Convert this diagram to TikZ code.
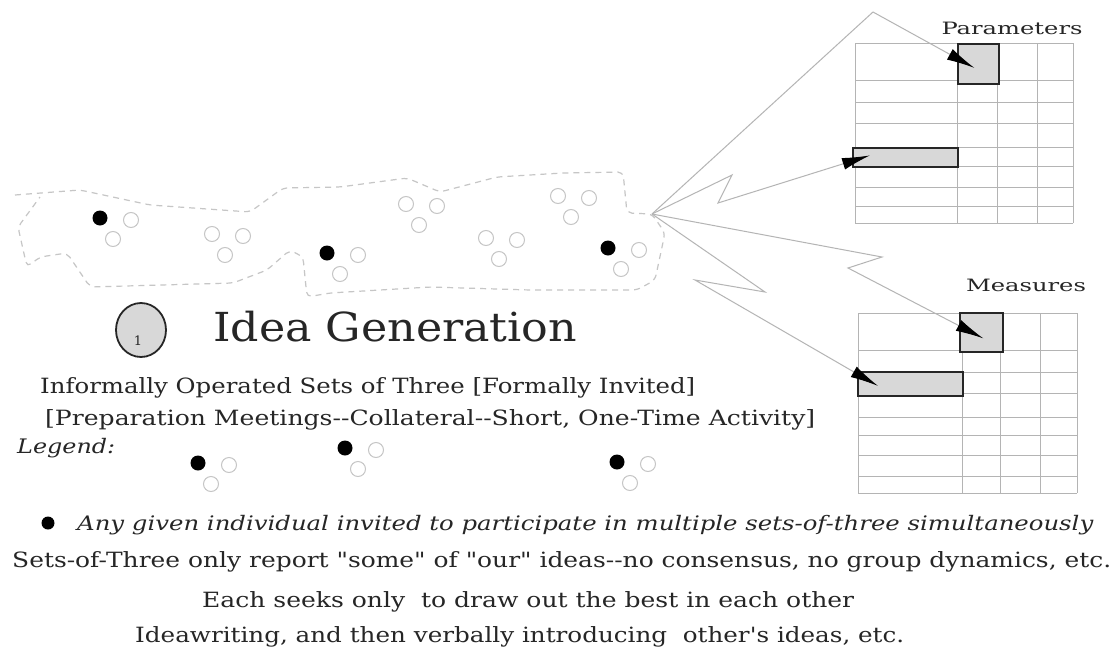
\documentclass[tikz,border=0pt]{standalone}
\usepackage{fontspec}
\setmainfont[Ligatures=TeXOff]{DejaVu Serif}
\usetikzlibrary{arrows.meta, shapes.geometric}

\definecolor{ink}{HTML}{262626}
\definecolor{faint}{HTML}{C6C6C6}
\definecolor{rule}{HTML}{B4B4B4}
\definecolor{cellfill}{HTML}{D8D8D8}
% squeeze a text to a given width, height kept
\newcommand{\squeeze}[2]{\resizebox{#1}{\height}{#2}}

\tikzset{
  txt/.style={inner sep=0pt, anchor=base west, text=ink},
  member/.style={circle, draw=faint, line width=1pt, minimum size=15pt, inner sep=0pt},
  leader/.style={circle, fill=black, minimum size=15pt, inner sep=0pt},
  cell/.style={rectangle, draw=ink, fill=cellfill, line width=1.8pt, inner sep=0pt, anchor=north west},
  bolt/.style={draw=rule, line width=1pt, -{Latex[length=28pt,width=12pt,color=black]}},
  gridline/.style={draw=rule, line width=0.8pt},
}

\begin{document}
\begin{tikzpicture}[x=1pt, y=-1pt]
  \useasboundingbox[fill=white] (0,0) rectangle (1120,651);

  % the region of the sets of three
  \coordinate (apex) at (652,214);
  \draw[faint, line width=1.2pt, dash pattern=on 6pt off 5pt, rounded corners=5pt]
    (15,195) -- (80,190) -- (150,205) -- (250,212) -- (283,188) -- (340,187)
    -- (407,178) -- (440,192) -- (497,177) -- (563,173) -- (623,172) -- (627,213)
    -- (apex) -- (665,233) -- (655,280) -- (637,290) -- (530,290) -- (430,287)
    -- (330,293) -- (307,297) -- (303,257) -- (290,250) -- (267,270) -- (233,283)
    -- (90,287) -- (67,253) -- (40,257) -- (27,267) -- (18,227) -- (40,197);

  % sets of three
  \foreach \n/\x/\y/\k in {1/100/218/leader, 2/212/234/member, 3/327/253/leader,
      4/406/204/member, 5/486/238/member, 6/558/196/member, 7/608/248/leader,
      8/198/463/leader, 9/345/448/leader, 10/617/462/leader} {
    \node[\k] (s\n a) at (\x,\y) {};
    \node[member] (s\n b) at (\x+31,\y+2) {};
    \node[member] (s\n c) at (\x+13,\y+21) {};
  }

  % parameters grid
  \foreach \x in {855,957,997,1037,1073}
    \draw[gridline] (\x,43) -- (\x,223);
  \foreach \y in {43,80,102,123,147,166,187,206,223}
    \draw[gridline] (855,\y) -- (1073,\y);
  % measures grid
  \foreach \x in {858,962,1000,1040,1077}
    \draw[gridline] (\x,313) -- (\x,493);
  \foreach \y in {313,350,372,393,417,435,455,476,493}
    \draw[gridline] (858,\y) -- (1077,\y);

  \node[cell, minimum width=41pt, minimum height=40pt] (pbox) at (957,43) {};
  \node[cell, minimum width=105pt, minimum height=19pt] (pbar) at (852,147) {};
  \node[cell, minimum width=43pt, minimum height=39pt] (mbox) at (959,312) {};
  \node[cell, minimum width=105pt, minimum height=24pt] (mbar) at (857,371) {};

  \node[txt, anchor=base] (params) at (1012,34) {\fontsize{17}{20}\selectfont\squeeze{141pt}{Parameters}};
  \node[txt, anchor=base] (meas) at (1026,291) {\fontsize{17}{20}\selectfont\squeeze{120pt}{Measures}};

  % lightning connectors
  \draw[bolt] (apex) -- (873,12) -- ([xshift=-4pt,yshift=-4pt]pbox.center);
  \draw[bolt] (apex) -- (732,175) -- (718,203) -- ([xshift=18pt,yshift=2pt]pbar.west);
  \draw[bolt] (apex) -- (882,257) -- (848,268) -- ([xshift=2pt,yshift=-6pt]mbox.center);
  \draw[bolt] (apex) -- (765,292) -- (695,280) -- ([xshift=21pt,yshift=-2pt]mbar.west);

  % title
  \node[ellipse, draw=ink, fill=cellfill, line width=1.8pt, minimum width=50pt, minimum height=54pt] (step1) at (141,330) {};
  \node[txt, anchor=base] (one) at ([xshift=-3pt,yshift=-15pt]step1.center) {\fontsize{13}{14}\selectfont 1};
  \node[txt] (title) at (213,341) {\fontsize{40}{46}\selectfont\squeeze{364pt}{Idea Generation}};
  \node[txt] (sub1) at (40,393) {\fontsize{21}{24}\selectfont\squeeze{655pt}{Informally Operated Sets of Three [Formally Invited]}};
  \node[txt] (sub2) at (45,425) {\fontsize{21}{24}\selectfont\squeeze{770pt}{[Preparation Meetings--Collateral--Short, One-Time Activity]}};
  \node[txt] (legend) at (17,453) {\fontsize{20}{24}\selectfont\squeeze{98pt}{\itshape Legend:}};

  % notes
  \node[leader, minimum size=13pt] (dot) at (48,523) {};
  \node[txt] (note1) at (77,530) {\fontsize{20}{24}\selectfont\squeeze{1016pt}{\itshape Any given individual invited to participate in multiple sets-of-three simultaneously}};
  \node[txt] (note2) at (12,567) {\fontsize{21}{24}\selectfont\squeeze{1099pt}{Sets-of-Three only report "some" of "our" ideas--no consensus, no group dynamics, etc.}};
  \node[txt] (note3) at (202,607) {\fontsize{21}{24}\selectfont\squeeze{652pt}{Each seeks only\ \ to draw out the best in each other}};
  \node[txt] (note4) at (135,642) {\fontsize{21}{24}\selectfont\squeeze{769pt}{Ideawriting, and then verbally introducing\ \ other's ideas, etc.}};
\end{tikzpicture}
\end{document}
